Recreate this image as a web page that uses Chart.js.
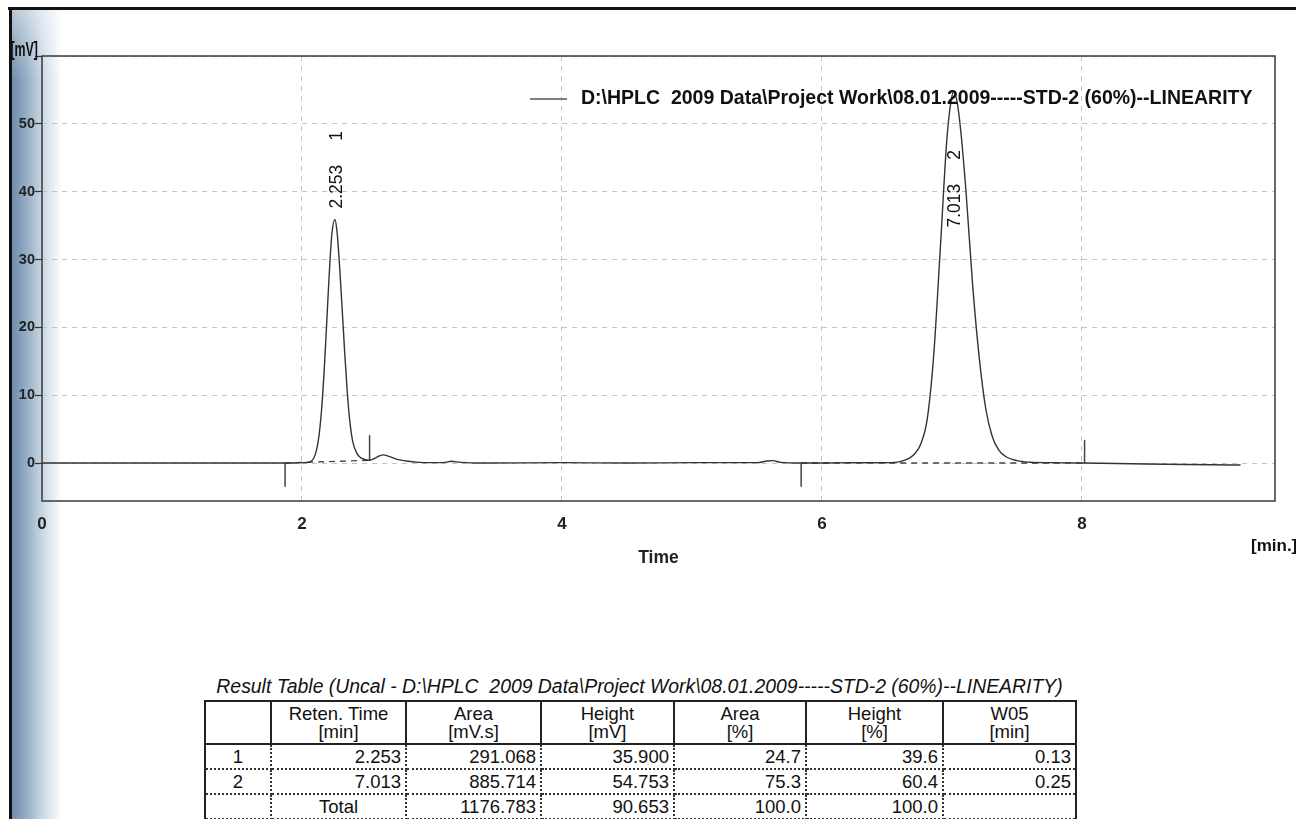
<!DOCTYPE html>
<html>
<head>
<meta charset="utf-8">
<script src="https://cdn.jsdelivr.net/npm/chart.js@4.4.1/dist/chart.umd.min.js"></script>
<style>
  html, body { margin: 0; padding: 0; background: #fff; width: 1296px; height: 819px; overflow: hidden; }
  #strip { position: absolute; left: 12px; top: 10px; width: 50px; height: 809px;
    background: linear-gradient(to right, #6f8cab 0%, #98afc6 30%, #cbd9e6 62%, rgba(255,255,255,0) 100%); }
  #stripTop { position: absolute; left: 12px; top: 10px; width: 50px; height: 70px;
    background: linear-gradient(to bottom, rgba(255,255,255,0.5), rgba(255,255,255,0)); }
  #edgeTop { position: absolute; left: 8px; top: 7px; width: 1288px; height: 3px; background: #111; }
  #edgeLeft { position: absolute; left: 9px; top: 7px; width: 3px; height: 812px; background: #111; }
  #c { position: absolute; left: 0; top: 0; }
  #tbl { position: absolute; left: 204px; top: 672px; width: 871px; font-family: 'Liberation Sans', Arial, sans-serif; color: #111; }
  .cap { font-style: italic; font-size: 19.4px; text-align: center; white-space: pre; height: 28px; line-height: 28px; }
  table { border-collapse: collapse; width: 871px; table-layout: fixed; font-size: 18.5px; }
  th { border: 2px solid #222; font-weight: normal; height: 41px; line-height: 18px; padding: 0; }
  td { border-left: 2px dotted #333; border-right: 2px dotted #333; border-bottom: 2px dotted #333;
       height: 23px; line-height: 22px; padding: 0 4px 0 0; text-align: right; white-space: nowrap; }
  td:first-child { border-left: 2px solid #222; text-align: center; padding: 0; }
  td:last-child { border-right: 2px solid #222; }
  td.mid { text-align: center; padding: 0; }
</style>
</head>
<body>
<div id="strip"></div>
<div id="stripTop"></div>
<div id="edgeTop"></div>
<div id="edgeLeft"></div>
<canvas id="c" width="1296" height="600"></canvas>
<div id="tbl">
  <div class="cap">Result Table (Uncal - D:\HPLC  2009 Data\Project Work\08.01.2009-----STD-2 (60%)--LINEARITY)</div>
  <table id="res"></table>
</div>
<script>
// 読み取ったクロマトグラムの値
const times = [0, 0.5, 1.0, 1.5, 1.87, 2.0, 2.06, 2.09, 2.11, 2.13, 2.15, 2.17, 2.19, 2.21, 2.23, 2.253,
  2.27, 2.29, 2.31, 2.33, 2.35, 2.37, 2.39, 2.42, 2.45, 2.50, 2.52, 2.57, 2.62, 2.68, 2.74, 2.80, 2.90,
  3.0, 3.1, 3.15, 3.22, 3.4, 4.0, 4.5, 5.0, 5.5, 5.58, 5.62, 5.68, 5.84, 6.0, 6.2, 6.4, 6.5, 6.6, 6.66,
  6.71, 6.76, 6.81, 6.86, 6.91, 6.96, 6.99, 7.013, 7.04, 7.07, 7.11, 7.16, 7.21, 7.26, 7.31, 7.36, 7.41,
  7.5, 7.6, 7.75, 8.02, 8.5, 9.0, 9.22];
const signal = [0, 0, 0, 0, 0, 0.05, 0.15, 0.7, 1.8, 3.9, 7.7, 13.4, 20.6, 28, 33.8, 35.9,
  34, 28.8, 22.4, 15.8, 10, 5.8, 3.2, 1.5, 0.8, 0.45, 0.4, 0.8, 1.2, 0.9, 0.5, 0.3, 0.1,
  0.05, 0.1, 0.25, 0.1, 0, 0.05, 0, 0.05, 0.05, 0.3, 0.35, 0.1, 0, 0, 0.05, 0.05, 0.05, 0.2, 0.6,
  1.3, 2.8, 6.5, 16, 31.5, 47.5, 53, 54.75, 53.2, 48.5, 39.5, 26, 15.5, 8, 3.9, 1.9, 1.0,
  0.35, 0.12, 0.05, 0, -0.15, -0.25, -0.3];

// 積分マーカーとベースライン
const markerTimes = [1.87, 2.52, 5.84, 8.02];
const markerFrom = [0, 0.4, 0, 0];
const markerTo = [-3.5, 4.1, -3.5, 3.4];
const baseStart = [1.87, 5.84];
const baseStartVal = [0, 0];
const baseEnd = [2.52, 8.02];
const baseEndVal = [0.4, 0];

const xTicks = [0, 2, 4, 6, 8];
const yTicks = [0, 10, 20, 30, 40, 50, 60];

// 結果テーブル
const peakNo = [1, 2];
const retTimes = [2.253, 7.013];
const areas = [291.068, 885.714];
const heights = [35.900, 54.753];
const areaPct = [24.7, 75.3];
const heightPct = [39.6, 60.4];
const w05 = [0.13, 0.25];
const totals = { area: 1176.783, height: 90.653, areaPct: 100.0, heightPct: 100.0 };

const legendText = 'D:\\HPLC  2009 Data\\Project Work\\08.01.2009-----STD-2 (60%)--LINEARITY';
const FONT = "'Liberation Sans', Arial, sans-serif";
const ink = '#333';

const datasets = [{
  data: times.map((t, i) => ({ x: t, y: signal[i] })),
  borderColor: ink, borderWidth: 1.4, pointRadius: 0, cubicInterpolationMode: 'monotone'
}];
baseStart.forEach((t, i) => {
  datasets.push({
    data: [{ x: t, y: baseStartVal[i] }, { x: baseEnd[i], y: baseEndVal[i] }],
    borderColor: '#444', borderWidth: 1.3, borderDash: [6, 5], pointRadius: 0
  });
});
markerTimes.forEach((t, i) => {
  datasets.push({
    data: [{ x: t, y: markerFrom[i] }, { x: t, y: markerTo[i] }],
    borderColor: '#444', borderWidth: 1.5, pointRadius: 0
  });
});

const extras = {
  id: 'extras',
  afterDraw(chart) {
    const { ctx, chartArea: a, scales: { x, y } } = chart;
    ctx.save();
    // 枠
    ctx.strokeStyle = '#3a3a3a';
    ctx.lineWidth = 1.5;
    ctx.strokeRect(a.left, a.top, a.right - a.left, a.bottom - a.top);
    // 凡例
    ctx.strokeStyle = '#555';
    ctx.beginPath(); ctx.moveTo(530, 99); ctx.lineTo(567, 99); ctx.stroke();
    ctx.fillStyle = '#111';
    ctx.font = 'bold 19.5px ' + FONT;
    ctx.textBaseline = 'middle';
    ctx.textAlign = 'left';
    ctx.fillText(legendText, 581, 99);
    // 単位
    ctx.save();
    ctx.translate(38, 56);
    ctx.scale(0.62, 1);
    ctx.font = 'bold 20px ' + FONT;
    ctx.textAlign = 'right';
    ctx.textBaseline = 'alphabetic';
    ctx.fillText('[mV]', 0, 0);
    ctx.restore();
    ctx.font = 'bold 17px ' + FONT;
    ctx.textAlign = 'left';
    ctx.textBaseline = 'middle';
    ctx.fillText('[min.]', 1251, 546);
    // ピークラベル
    ctx.font = '17.5px ' + FONT;
    retTimes.forEach((t, i) => {
      const px = x.getPixelForValue(t) + 2;
      const apex = y.getPixelForValue(heights[i]);
      let start = apex - 11;
      if (start - 90 < a.top) start = apex + 136;
      ctx.save();
      ctx.translate(px, start);
      ctx.rotate(-Math.PI / 2);
      ctx.textAlign = 'left';
      ctx.textBaseline = 'middle';
      const s = t.toFixed(3);
      ctx.fillText(s, 0, 0);
      ctx.fillText(String(peakNo[i]), ctx.measureText(s).width + 24, 0);
      ctx.restore();
    });
    ctx.restore();
  }
};

new Chart(document.getElementById('c').getContext('2d'), {
  type: 'line',
  data: { datasets },
  options: {
    responsive: false,
    animation: false,
    layout: { padding: { left: 0, top: 56, right: 21, bottom: 0 } },
    plugins: { legend: { display: false }, tooltip: { enabled: false } },
    scales: {
      x: {
        type: 'linear', min: 0, max: 9.485,
        afterFit: s => { s.height = 99; },
        afterBuildTicks: s => { s.ticks = xTicks.map(v => ({ value: v })); },
        grid: { color: '#c4c4c4', drawTicks: false },
        border: { display: false, dash: [5, 5] },
        ticks: { padding: 13, maxRotation: 0, color: '#222', font: { family: FONT, size: 17, weight: 'bold' } },
        title: { display: true, text: 'Time', color: '#222', font: { family: FONT, size: 17.5, weight: 'bold' }, padding: { top: 0, bottom: 31 } }
      },
      y: {
        min: -5.6, max: 60,
        afterFit: s => { s.width = 42; },
        afterBuildTicks: s => { s.ticks = yTicks.map(v => ({ value: v })); },
        grid: { color: '#c4c4c4', tickColor: '#333', tickLength: 7, tickWidth: 1.2, tickBorderDash: [] },
        border: { display: false, dash: [5, 5] },
        ticks: { padding: 0, color: '#222', font: { family: FONT, size: 14.5, weight: 'bold' },
          callback: v => v === 60 ? '' : v }
      }
    }
  },
  plugins: [extras]
});

// テーブル
const res = document.getElementById('res');
let html = '<colgroup><col style="width:66px"><col style="width:135px"><col style="width:135px"><col style="width:133px"><col style="width:132px"><col style="width:137px"><col style="width:133px"></colgroup>';
html += '<tr><th></th><th>Reten. Time<br>[min]</th><th>Area<br>[mV.s]</th><th>Height<br>[mV]</th><th>Area<br>[%]</th><th>Height<br>[%]</th><th>W05<br>[min]</th></tr>';
peakNo.forEach((n, i) => {
  html += '<tr><td>' + n + '</td><td>' + retTimes[i].toFixed(3) + '</td><td>' + areas[i].toFixed(3) +
    '</td><td>' + heights[i].toFixed(3) + '</td><td>' + areaPct[i].toFixed(1) + '</td><td>' +
    heightPct[i].toFixed(1) + '</td><td>' + w05[i].toFixed(2) + '</td></tr>';
});
html += '<tr><td></td><td class="mid">Total</td><td>' + totals.area.toFixed(3) + '</td><td>' + totals.height.toFixed(3) +
  '</td><td>' + totals.areaPct.toFixed(1) + '</td><td>' + totals.heightPct.toFixed(1) + '</td><td></td></tr>';
res.innerHTML = html;
</script>
</body>
</html>
